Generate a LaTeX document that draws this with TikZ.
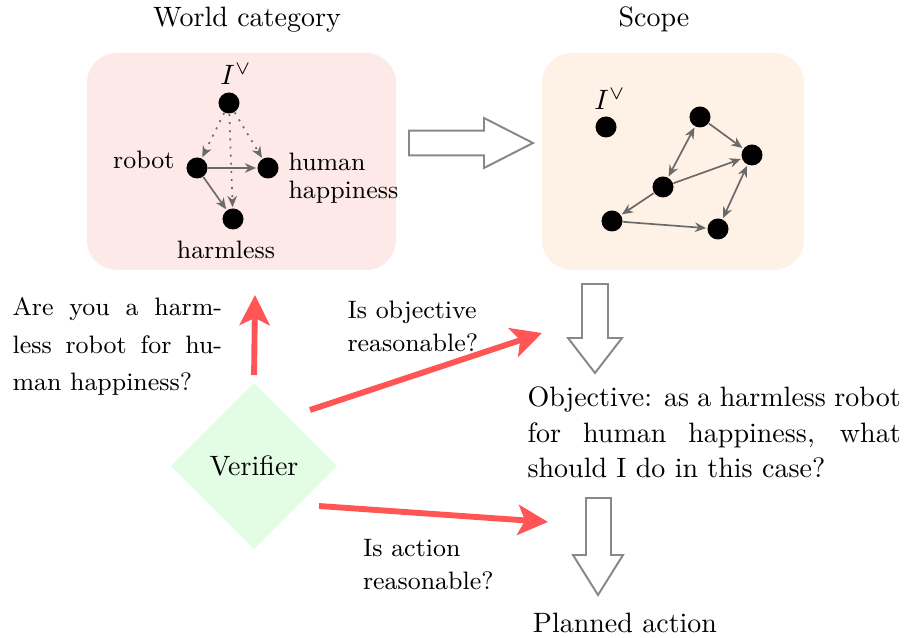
\documentclass[tikz,border=0pt]{standalone}
\usepackage{tikz}
\usetikzlibrary{arrows.meta,shapes.geometric}
\definecolor{boxpink}{HTML}{FDE9E7}
\definecolor{boxbeige}{HTML}{FEF1E5}
\definecolor{vergreen}{HTML}{E3FDE4}
\definecolor{redarr}{HTML}{FF5555}
\definecolor{grarr}{HTML}{6A6A6A}
\definecolor{hollowgray}{HTML}{888888}
\begin{document}
\begin{tikzpicture}[x=0.357pt,y=-0.357pt,
 dot/.style={circle,fill=black,inner sep=0pt,minimum size=7.5pt},
 garrow/.style={draw=grarr,line width=0.6pt,-{Stealth[length=4pt,width=3.4pt]},shorten >=0.3pt},
 gboth/.style={draw=grarr,line width=0.6pt,{Stealth[length=4pt,width=3.4pt]}-{Stealth[length=4pt,width=3.4pt]},shorten >=0.3pt,shorten <=0.3pt},
 gdotted/.style={garrow,dash pattern={on 0.7pt off 2.2pt}},
 bigred/.style={draw=redarr,line width=2.1pt,-{Stealth[length=10.7pt,width=10.7pt,inset=2.5pt]}},
 hollowarrow/.style={draw=hollowgray,line width=0.7pt,fill=white,line join=miter},
 region/.style={rounded corners=10.7pt},
 lbl/.style={font=\small,inner sep=0pt},
 txt/.style={inner sep=0pt}]
\useasboundingbox (0,0) rectangle (904,638);
% regions
\fill[boxpink,region] (87,53) rectangle (396,270);
\fill[boxbeige,region] (542,53) rectangle (804,270);
% titles
\node[txt,anchor=base] (tw) at (247,27) {World category};
\node[txt,anchor=base] (ts) at (654,27) {Scope};
% world graph
\node[dot] (wi) at (229,103) {};
\node[dot] (wr) at (197,168) {};
\node[dot] (wh) at (268,168) {};
\node[dot] (wa) at (233,219) {};
\node[txt,anchor=base] (wil) at (236,85) {$I^{\vee}$};
\node[lbl,anchor=base east] (wrl) at (175,169) {robot};
\node[lbl,anchor=base west,align=left,font=\fontsize{9}{10.1}\selectfont] (whl) at (288,199) {human\\happiness};
\node[lbl,anchor=base] (wal) at (226,259) {harmless};
\draw[gdotted] (wi) -- (wr);
\draw[gdotted] (wi) -- (wh);
\draw[gdotted] (wi) -- (wa);
\draw[garrow] (wr) -- (wh);
\draw[garrow] (wr) -- (wa);
% scope graph
\node[dot] (si) at (606,127) {};
\node[dot] (sa) at (700,117) {};
\node[dot] (sb) at (752,155) {};
\node[dot] (sc) at (663,187) {};
\node[dot] (sd) at (612,221) {};
\node[dot] (se) at (718,229) {};
\node[txt,anchor=base] (sil) at (610,110) {$I^{\vee}$};
\draw[garrow] (sa) -- (sb);
\draw[gboth] (sa) -- (sc);
\draw[garrow] (sc) -- (sb);
\draw[garrow] (sc) -- (sd);
\draw[garrow] (sd) -- (se);
\draw[gboth] (sb) -- (se);
% hollow arrows
\draw[hollowarrow] (409,130.6) -- (484,130.6) -- (484,118) -- (533,143) -- (484,168) -- (484,155.4) -- (409,155.4) -- cycle;
\draw[hollowarrow] (582,284) -- (608,284) -- (608,338) -- (622,338) -- (595,373) -- (568,338) -- (582,338) -- cycle;
\draw[hollowarrow] (586,498) -- (611,498) -- (611,555) -- (623,555) -- (598,595) -- (573,555) -- (586,555) -- cycle;
% texts
\node[txt,anchor=base west,text width=133.2pt,align=justify,font=\fontsize{10}{12.5}\selectfont] (obj) at (527,407) {Objective: as a harmless robot\linebreak for human happiness, what\linebreak should I do in this case?};
\node[txt,anchor=base] (plan) at (625,633) {Planned action};
% verifier
\node[diamond,fill=vergreen,inner sep=0pt,minimum width=59.5pt,minimum height=59.5pt] (ver) at (254,466) {Verifier};
% red arrows
\coordinate (t1) at (255,295);
\coordinate (v2) at (310,410);
\coordinate (t2) at (542,333);
\coordinate (v3) at (319,506);
\coordinate (t3) at (548,522);
\draw[bigred,shorten <=2.5pt] (ver.north) -- (t1);
\draw[bigred] (v2) -- (t2);
\draw[bigred] (v3) -- (t3);
% question labels
\node[lbl,anchor=base west,text width=74.8pt,align=justify,font=\fontsize{9}{13.4}\selectfont] (q1) at (12,315.5) {Are you a harm-\linebreak less robot for hu-\linebreak man happiness?};
\node[lbl,anchor=base west,align=left,font=\fontsize{9}{11.8}\selectfont] (q2) at (347,351.5) {Is objective\\reasonable?};
\node[lbl,anchor=base west,align=left,font=\fontsize{9}{11.8}\selectfont] (q3) at (362.5,590) {Is action\\reasonable?};
\end{tikzpicture}
\end{document}
